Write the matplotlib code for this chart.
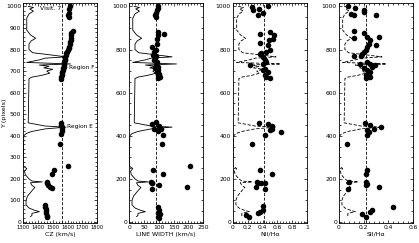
import matplotlib.pyplot as plt
from matplotlib.ticker import MultipleLocator, AutoMinorLocator

# slit brightness profile, drawn as a fraction of each panel's width
prof_y = [1000, 995, 988, 978, 965, 945, 890, 868, 852, 840, 825, 800, 785, 778,
          766, 760, 752, 740, 733, 728, 722, 715, 708, 700, 690, 680, 672, 665,
          460, 445, 440, 432, 420, 410, 400, 260, 248, 235, 220, 200, 190, 186,
          182, 170, 160, 145, 120, 100, 80, 65, 55, 48, 40, 30, 25]
prof_f = [0.07, 0.14, 0.09, 0.14, 0.08, 0.05, 0.05, 0.10, 0.17, 0.11, 0.08, 0.08, 0.13, 0.30,
          0.58, 0.30, 0.22, 0.05, 0.64, 0.22, 0.35, 0.28, 0.40, 0.32, 0.36, 0.25, 0.12, 0.08,
          0.07, 0.30, 0.58, 0.30, 0.12, 0.04, 0.01, 0.00, 0.05, 0.02, 0.03, 0.08, 0.12, 0.26,
          0.10, 0.12, 0.16, 0.12, 0.06, 0.04, 0.04, 0.08, 0.15, 0.22, 0.12, 0.12, 0.10]

# CZ (km/s)
cz_y = [1000, 986, 968, 958, 949,
        886, 875, 865, 855, 846, 836, 824, 813, 805, 798, 790, 782, 774, 767, 758, 750,
        743, 736, 728, 721, 713, 705, 697, 690, 682, 674, 665,
        460, 450, 440, 430, 420, 407, 364,
        261, 241, 222, 187, 179, 171, 160, 156,
        79, 70, 60, 50, 40, 30, 25]
cz_v = [1618, 1611, 1611, 1604, 1611,
        1640, 1626, 1624, 1622, 1620, 1618, 1614, 1611, 1607, 1604, 1597, 1590, 1587, 1584, 1582, 1580,
        1578, 1577, 1575, 1574, 1570, 1567, 1565, 1562, 1560, 1557, 1555,
        1557, 1555, 1560, 1562, 1565, 1557, 1550,
        1606, 1510, 1494, 1460, 1464, 1469, 1482, 1494,
        1449, 1450, 1452, 1455, 1457, 1460, 1460]

# LINE WIDTH (km/s)
lw_y = [1000, 992, 981, 969, 958, 951,
        874, 882, 866, 850, 827, 812, 799, 787, 776, 769, 760, 750, 742, 727, 720, 713,
        705, 694, 687, 681, 674, 667,
        465, 454, 444, 433, 433, 423, 403, 364,
        261, 241, 222, 187, 183, 180, 171, 163, 151,
        71, 56, 44, 37, 25, 18]
lw_v = [98, 97, 95, 91, 88, 91,
        118, 98, 96, 93, 93, 78, 91, 84, 81, 91, 88, 84, 95, 91, 97, 88,
        98, 93, 101, 97, 103, 98,
        91, 78, 101, 84, 108, 98, 113, 110,
        206, 81, 116, 73, 77, 79, 102, 197, 78,
        96, 101, 98, 105, 96, 101]

# NII/Halpha
n2_y = [1000, 997, 985, 989, 958, 969,
        881, 874, 866, 850, 843, 831, 819, 796, 789, 784, 778, 766, 750, 742, 735, 730,
        711, 705, 698, 681, 674, 667,
        460, 454, 444, 433, 429, 418, 403, 364,
        241, 222, 187, 180, 183, 183, 163, 151,
        72, 56, 46, 42, 32, 22]
n2_v = [0.47, 0.25, 0.27, 0.35, 0.34, 0.41,
        0.50, 0.36, 0.56, 0.54, 0.49, 0.36, 0.47, 0.50, 0.45, 0.38, 0.36, 0.41, 0.43, 0.45, 0.41, 0.23,
        0.43, 0.40, 0.47, 0.43, 0.45, 0.50,
        0.35, 0.47, 0.53, 0.53, 0.50, 0.65, 0.43, 0.26,
        0.37, 0.53, 0.32, 0.34, 0.38, 0.43, 0.31, 0.43,
        0.41, 0.40, 0.36, 0.34, 0.18, 0.22]

# SII/Halpha
s2_y = [1000, 992, 967, 960, 983, 975, 958,
        886, 875, 859, 852, 846, 859, 827, 819, 812, 796, 789, 778, 769, 769,
        735, 744, 735, 727, 721, 713, 705, 698, 681, 674, 667,
        460, 449, 433, 441, 426, 418, 403, 364,
        241, 222, 187, 187, 176, 171, 151, 160,
        71, 56, 46, 37, 22]
s2_v = [0.07, 0.13, 0.10, 0.12, 0.20, 0.20, 0.30,
        0.12, 0.20, 0.23, 0.12, 0.25, 0.32, 0.24, 0.30, 0.23, 0.22, 0.20, 0.19, 0.12, 0.18,
        0.17, 0.23, 0.25, 0.29, 0.27, 0.20, 0.23, 0.25, 0.22, 0.25, 0.22,
        0.21, 0.25, 0.28, 0.34, 0.23, 0.24, 0.23, 0.065,
        0.23, 0.22, 0.08, 0.22, 0.23, 0.22, 0.07, 0.32,
        0.44, 0.27, 0.25, 0.19, 0.22]

means = [1560, 92, 0.42, 0.22]
xlims = [(1300, 1800), (0, 250), (0, 1), (0, 0.6)]
xticks = [[1300, 1400, 1500, 1600, 1700, 1800],
          [0, 50, 100, 150, 200, 250],
          [0, 0.2, 0.4, 0.6, 0.8, 1.0],
          [0, 0.2, 0.4, 0.6]]
xticklabels = [["1300", "1400", "1500", "1600", "1700", "1800"],
               ["0", "50", "100", "150", "200", "250"],
               ["0", "0.2", "0.4", "0.6", "0.8", "1"],
               ["0", "0.2", "0.4", "0.6"]]
xlabels = ["CZ (km/s)", "LINE WIDTH (km/s)", "NII/H\u03b1", "SII/H\u03b1"]
prof_style = ["-", "-", "--", "--"]
series = [(cz_y, cz_v), (lw_y, lw_v), (n2_y, n2_v), (s2_y, s2_v)]
lefts = [0.055, 0.308, 0.556, 0.809]

fig = plt.figure(figsize=(4.19, 2.43), dpi=100)
plt.rcParams['font.size'] = 4.5

for i in range(4):
    ax = fig.add_axes([lefts[i], 0.082, 0.177, 0.905])
    ys, xs = series[i]
    if prof_style[i] == "--":
        ax.plot(prof_f, prof_y, color="black", lw=0.6, dashes=(4, 2),
                transform=ax.get_yaxis_transform())
    else:
        ax.plot(prof_f, prof_y, color="black", lw=0.6,
                transform=ax.get_yaxis_transform())
    ax.axvline(means[i], color="black", lw=0.6, dashes=(3.5, 2))
    ax.plot(xs, ys, "o", color="black", ms=4, mew=0)
    ax.set_xlim(*xlims[i])
    ax.set_ylim(-5, 1015)
    ax.set_xticks(xticks[i], xticklabels[i])
    ax.xaxis.set_minor_locator(AutoMinorLocator(5))
    if i == 0:
        ax.yaxis.set_major_locator(MultipleLocator(100))
        ax.yaxis.set_minor_locator(AutoMinorLocator(5))
        ax.set_ylabel("Y (pixels)", fontsize=4.6)
        ax.yaxis.set_label_coords(-0.21, 0.5)
    else:
        ax.yaxis.set_major_locator(MultipleLocator(200))
        ax.yaxis.set_minor_locator(AutoMinorLocator(4))
    ax.set_xlabel(xlabels[i], labelpad=1)
    ax.tick_params(which="both", direction="in", top=True, right=True, width=0.5,
                   pad=1.5, labelsize=4.3)
    ax.tick_params(which="major", length=2.5)
    ax.tick_params(which="minor", length=1.2)
    if i == 0:
        ax.tick_params(axis="x", labelsize=3.7)
    for s in ax.spines.values():
        s.set_linewidth(0.6)
    if i == 0:
        ax.text(1415, 990, "Visit. 7", fontsize=4.4, va="center")
        ax.text(1612, 718, "Region F", fontsize=4.2, va="center")
        ax.text(1597, 444, "Region E", fontsize=4.2, va="center")

fig.savefig("out.png", dpi=100)
